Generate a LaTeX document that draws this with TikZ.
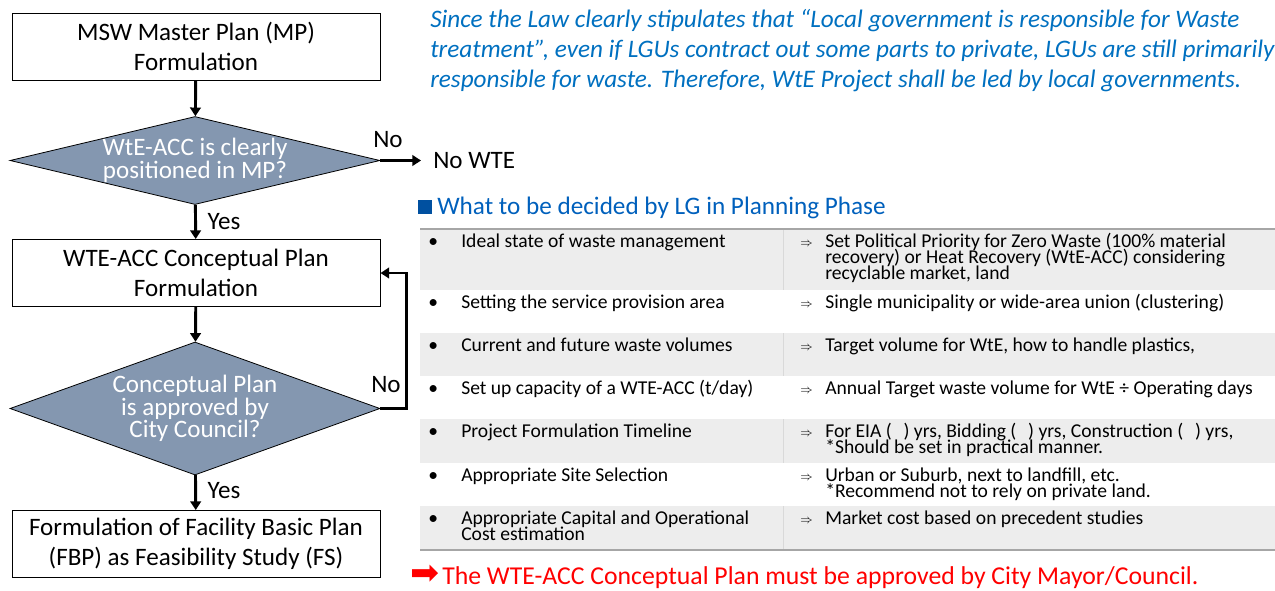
\documentclass[tikz,border=0pt]{standalone}
\usepackage{fontspec}
\setmainfont{Carlito}
\newfontfamily\symfont{DejaVu Sans}
\usetikzlibrary{shapes.geometric, arrows.meta}
\definecolor{diamondfill}{RGB}{132,151,176}
\definecolor{noteblue}{RGB}{0,112,192}
\definecolor{headblue}{RGB}{0,96,188}
\definecolor{squareblue}{RGB}{0,80,160}
\definecolor{rowgray}{RGB}{237,237,237}
\definecolor{rulegray}{RGB}{166,166,166}
\newcommand\tightlines{\lineskiplimit=-6pt\relax\lineskip=0pt\relax}
\tikzset{
  flow arrow/.style={-{Triangle[width=8pt,length=6.5pt]}, line width=2.2pt}
}
\begin{document}
\begin{tikzpicture}[x=0.75pt, y=-0.75pt,
    stepbox/.style={draw, line width=0.75pt, minimum width=276pt, minimum height=50.25pt,
      align=center, inner sep=0pt, font=\fontsize{18.8}{22.5}\selectfont},
    decision/.style={diamond, draw, fill=diamondfill, text=white, line width=0.6pt,
      inner sep=0pt, align=center, minimum width=277.5pt, font=\fontsize{18.8}{16.9}\selectfont},
    lbl/.style={inner sep=0pt, font=\fontsize{18.8}{22}\selectfont},
    note/.style={anchor=base west, inner sep=0pt, text=noteblue, font=\fontsize{18.9}{22}\selectfont\itshape},
    cell/.style={anchor=base west, inner sep=0pt, align=left,
      font=\fontsize{14.7}{12}\selectfont\tightlines} ]
  \useasboundingbox (0,0) rectangle (1275,590);
  % flow chart
  \node [stepbox] (b1) at (196,46.5) {MSW Master Plan (MP)\\Formulation};
  \node [decision, aspect=4.2, minimum height=66pt] (d1) at (195,160.5) {WtE-ACC is clearly\\positioned in MP?};
  \node [stepbox] (b2) at (196,273) {WTE-ACC Conceptual Plan\\Formulation};
  \node [decision, aspect=2.78, minimum height=99.75pt] (d2) at (195,408.5) {Conceptual Plan\\is approved by\\City Council?};
  \node [stepbox] (b3) at (196,544) {Formulation of Facility Basic Plan\\(FBP) as Feasibility Study (FS)};
  \node [lbl, anchor=west] (nowte) at (433,161) {No WTE};
  \coordinate (nowte tip) at (421,160.5);
  \draw [flow arrow] (b1) -- (d1);
  \draw [flow arrow] (d1) -- (b2);
  \draw [flow arrow] (b2) -- (d2);
  \draw [flow arrow] (d2) -- (b3);
  \draw [flow arrow] (d1.east) -- (nowte tip);
  \draw [flow arrow] (d2.east) -- ++(26,0) |- (b2.east);
  \node [lbl] (no1) at (388,140) {No};
  \node [lbl] (yes1) at (224,222) {Yes};
  \node [lbl] (no2) at (386,385) {No};
  \node [lbl] (yes2) at (224,491) {Yes};
  % note at the top
  \node [note] (n1) at (430,27) {Since the Law clearly stipulates that “Local government is responsible for Waste};
  \node [note] (n2) at (430,57) {treatment”, even if LGUs contract out some parts to private, LGUs are still primarily};
  \node [note] (n3) at (430,87) {responsible for waste. Therefore, WtE Project shall be led by local governments.};
  % table
  \fill [squareblue] (418,200) rectangle (432,214);
  \node [anchor=base west, inner sep=0pt, text=headblue, font=\fontsize{18.9}{18.9}\selectfont] (head) at (437,214) {What to be decided by LG in Planning Phase};
  \foreach \top/\bot in {229/290, 333/376, 419/463, 506/550} {
    \fill [rowgray] (420,\top) rectangle (1275,\bot);
    \draw [gray!30, line width=0.75pt] (783,\top) -- (783,\bot);
  }
  \draw [rulegray, line width=1.5pt] (420,229) -- (1275,229);
  \draw [rulegray, line width=1.5pt] (420,550) -- (1275,550);
  \foreach \y in {247,308,351,394,437,481,524} {
    \node [cell] (bul\y) at (428,\y) {•};
    \node [cell] (imp\y) at (800,\y-1) {\fontsize{9}{9}\selectfont$\Rightarrow$};
  }
  % base of a cell is the baseline of its last line
  \node [cell] (l1) at (461,247) {Ideal state of waste management};
  \node [cell] (l2) at (461,308) {Setting the service provision area};
  \node [cell] (l3) at (461,351) {Current and future waste volumes};
  \node [cell] (l4) at (461,394) {Set up capacity of a WTE-ACC (t/day)};
  \node [cell] (l5) at (461,437) {Project Formulation Timeline};
  \node [cell] (l6) at (461,481) {Appropriate Site Selection};
  \node [cell] (l7) at (461,540) {Appropriate Capital and Operational\\Cost estimation};
  \node [cell] (r1) at (825,279) {Set Political Priority for Zero Waste (100\% material\\recovery) or Heat Recovery (WtE-ACC) considering\\recyclable market, land};
  \node [cell] (r2) at (825,308) {Single municipality or wide-area union (clustering)};
  \node [cell] (r3) at (825,351) {Target volume for WtE, how to handle plastics,};
  \node [cell] (r4) at (825,394) {Annual Target waste volume for WtE ÷ Operating days};
  \node [cell] (r5) at (825,453) {For EIA (\hspace{0.6em}) yrs, Bidding (\hspace{0.6em}) yrs, Construction (\hspace{0.6em}) yrs,\\{}*Should be set in practical manner.};
  \node [cell] (r6) at (825,497) {Urban or Suburb, next to landfill, etc.\\{}*Recommend not to rely on private land.};
  \node [cell] (r7) at (825,524) {Market cost based on precedent studies};
  % conclusion
  \node [anchor=base west, inner sep=0pt, text=red, font=\fontsize{19.3}{19.3}\selectfont] (must) at (442,584) {The WTE-ACC Conceptual Plan must be approved by City Mayor/Council.};
  \node [anchor=base east, inner sep=0pt, text=red, font=\symfont\fontsize{26}{26}\selectfont] (redarrow) at ([xshift=-2pt]must.base west) {➡};
\end{tikzpicture}
\end{document}
